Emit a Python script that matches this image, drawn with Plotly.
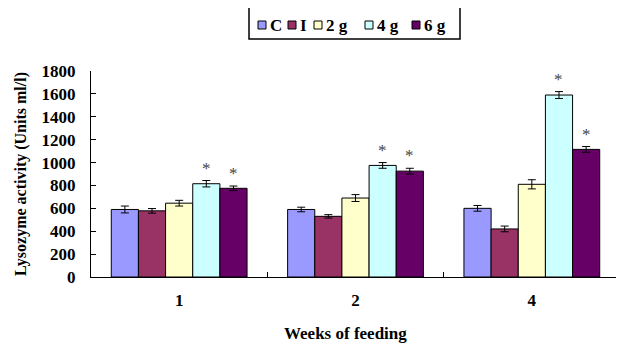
import plotly.graph_objects as go

weeks = ["1", "2", "4"]
groups = ["C", "I", "2 g", "4 g", "6 g"]
values = {
    "C":   [590, 590, 600],
    "I":   [578, 530, 420],
    "2 g": [645, 690, 810],
    "4 g": [815, 975, 1590],
    "6 g": [775, 925, 1115],
}
errors = {
    "C":   [30, 20, 25],
    "I":   [20, 15, 25],
    "2 g": [25, 30, 40],
    "4 g": [28, 25, 30],
    "6 g": [20, 25, 25],
}
significant = {"4 g": [True, True, True], "6 g": [True, True, True]}
colors = {"C": "#9999FF", "I": "#993366", "2 g": "#FFFFCC", "4 g": "#CCFFFF", "6 g": "#660066"}

FONT = "Liberation Serif"
OFF = 8  # default page body margin
W, H = 624 - OFF, 345 - OFF
# plot area in screen pixels: x 91..620, y 71..277
ML, MT = 91 - OFF, 71 - OFF
MR = W - (620 - OFF)
MB = H - (277 - OFF)
PW, PH = W - ML - MR, H - MT - MB
BARGAP = 0.23


def px(x):
    return (x - OFF - ML) / PW


def py(y):
    return (H - MB - (y - OFF)) / PH


fig = go.Figure()
for g in groups:
    fig.add_trace(go.Bar(
        name=g, x=weeks, y=values[g],
        marker=dict(color=colors[g], line=dict(color="black", width=1)),
        error_y=dict(type="data", array=errors[g], color="black", thickness=1, width=4),
        showlegend=False,
    ))

# asterisks (x given as category index)
ng = len(groups)
bar_w = (1 - BARGAP) / ng
for gi, g in enumerate(groups):
    if g not in significant:
        continue
    for wi, w in enumerate(weeks):
        if significant[g][wi]:
            fig.add_annotation(
                x=wi + (gi - (ng - 1) / 2) * bar_w, y=values[g][wi] + errors[g][wi],
                xref="x", yref="y",
                text="*", showarrow=False, yanchor="bottom", yshift=1,
                font=dict(family=FONT, size=17, color="#444444"),
            )

# custom legend (box, swatches, labels)
fig.add_shape(type="rect", xref="paper", yref="paper",
              x0=px(249), x1=px(460), y0=py(39), y1=py(7),
              line=dict(color="black", width=1.5), fillcolor="white")
sq_x = [258, 288, 314, 365, 412]
for g, sx in zip(groups, sq_x):
    fig.add_shape(type="rect", xref="paper", yref="paper",
                  x0=px(sx), x1=px(sx + 8), y0=py(29), y1=py(21),
                  line=dict(color="black", width=1), fillcolor=colors[g])
    fig.add_annotation(xref="paper", yref="paper", x=px(sx + 10), y=py(25),
                       text=g, showarrow=False, xanchor="left", yanchor="middle",
                       font=dict(family=FONT, size=17, color="black", weight="bold"))

# x-axis title placed as in the reference
fig.add_annotation(xref="paper", yref="paper", x=px(345), y=py(333),
                   text="Weeks of feeding", showarrow=False,
                   xanchor="center", yanchor="middle",
                   font=dict(family=FONT, size=17, color="black", weight="bold"))

fig.update_layout(
    width=W, height=H,
    margin=dict(l=ML, r=MR, t=MT, b=MB, autoexpand=False),
    paper_bgcolor="white", plot_bgcolor="white",
    barmode="group", bargap=BARGAP, bargroupgap=0,
    font=dict(family=FONT, color="black", size=15),
    showlegend=False,
    xaxis=dict(
        type="category", range=[-0.5, len(weeks) - 0.5], autorange=False,
        automargin=False,
        showline=True, linecolor="black", linewidth=1,
        ticks="inside", ticklen=5, tickson="boundaries", tickcolor="black",
        tickfont=dict(family=FONT, size=17, weight="bold"),
        ticklabelstandoff=8,
        showgrid=False,
    ),
    yaxis=dict(
        range=[0, 1800], dtick=200, autorange=False,
        automargin=False,
        showline=True, linecolor="black", linewidth=1,
        ticks="inside", ticklen=5, tickcolor="black",
        tickfont=dict(family=FONT, size=17, weight="bold"),
        ticklabelstandoff=11,
        title=dict(text="Lysozyme activity (Units ml/l)", font=dict(family=FONT, size=16, weight="bold"), standoff=10),
        showgrid=False, zeroline=False,
    ),
)

fig.write_html("out.html")
